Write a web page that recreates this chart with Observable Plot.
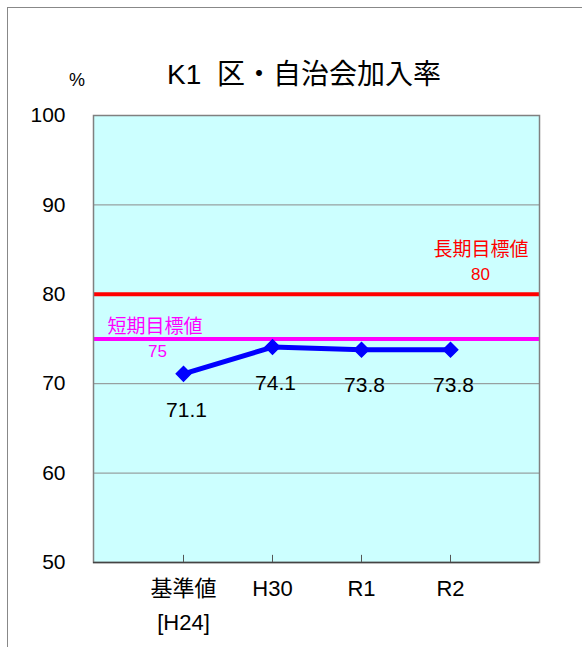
<!DOCTYPE html>
<html><head><meta charset="utf-8">
<script src="https://cdn.jsdelivr.net/npm/d3@7"></script>
<script src="https://cdn.jsdelivr.net/npm/@observablehq/plot@0.6"></script>
<style>
body{margin:0;background:#fff;}
#wrap{position:relative;width:582px;height:647px;overflow:hidden;font-family:"Liberation Sans","Noto Sans CJK JP",sans-serif;}
#border{position:absolute;left:7px;top:7px;width:600px;height:700px;border-left:1.5px solid #888;border-top:1.5px solid #888;}
#title{position:absolute;left:0;width:608px;top:52px;text-align:center;font-size:28px;color:#000;font-family:"Liberation Sans","Noto Sans CJK JP",sans-serif;white-space:pre;}
#pct{position:absolute;left:69px;top:70px;font-size:18px;font-family:"Liberation Sans",sans-serif;}
svg{position:absolute;left:0;top:0;}
</style></head>
<body><div id="wrap"><div id="border"></div><div id="title">K1  区・自治会加入率</div><div id="pct">%</div></div>
<script>
const categories = ["基準値", "H30", "R1", "R2"];
const tickLabels = ["基準値\n[H24]", "H30", "R1", "R2"];
const values = [71.1, 74.1, 73.8, 73.8];
const valueLabels = ["71.1", "74.1", "73.8", "73.8"];
const yTicks = [50, 60, 70, 80, 90, 100];
const gridTicks = [60, 70, 80, 90];
const longTarget = 80, longLabel = "長期目標値";
const shortTarget = 75, shortLabel = "短期目標値";

const data = categories.map((c, i) => ({cat: c, value: values[i], label: valueLabels[i]}));
const fontFam = '"Liberation Sans","Noto Sans CJK JP",sans-serif';
const cjk = '"Noto Sans CJK JP",sans-serif';

const chart = Plot.plot({
  width: 582, height: 647,
  marginLeft: 93, marginRight: 43, marginTop: 115, marginBottom: 85,
  style: {fontFamily: fontFam, background: "transparent", overflow: "visible", color: "#000"},
  x: {type: "point", domain: categories, padding: 1, label: null},
  y: {domain: [50, 100], label: null},
  marks: [
    Plot.frame({fill: "#CCFFFF", stroke: "none"}),
    Plot.ruleY(gridTicks, {stroke: "#8a8a8a", strokeWidth: 1}),
    Plot.ruleX(categories, {x: d => d, y1: 50, y2: 50.8, stroke: "#555"}),
    Plot.ruleY([longTarget], {stroke: "#FF0000", strokeWidth: 4}),
    Plot.ruleY([shortTarget], {stroke: "#FF00FF", strokeWidth: 4}),
    Plot.text([longLabel], {frameAnchor: "right", y: longTarget, dy: -44, dx: -11, text: d => d, fill: "#FF0000", fontSize: 19, textAnchor: "end", fontFamily: cjk}),
    Plot.text([String(longTarget)], {frameAnchor: "right", y: longTarget, dy: -20, dx: -59, text: d => d, fill: "#FF0000", fontSize: 17, textAnchor: "middle"}),
    Plot.text([shortLabel], {frameAnchor: "left", y: shortTarget, dy: -12, dx: 14, text: d => d, fill: "#FF00FF", fontSize: 19, textAnchor: "start", fontFamily: cjk}),
    Plot.text([String(shortTarget)], {frameAnchor: "left", y: shortTarget, dy: 13, dx: 64, text: d => d, fill: "#FF00FF", fontSize: 17, textAnchor: "middle"}),
    Plot.line(data, {x: "cat", y: "value", stroke: "#0000FF", strokeWidth: 5}),
    Plot.dot(data, {x: "cat", y: "value", symbol: "diamond2", fill: "#0000FF", stroke: "#0000FF", r: 6.5}),
    Plot.text(data, {x: "cat", y: "value", text: "label", dy: 36, dx: 3, fontSize: 21, fill: "#000"}),
    Plot.frame({stroke: "#808080", strokeWidth: 1.5}),
    Plot.ruleY([50], {stroke: "#444", strokeWidth: 1.5}),
    Plot.axisY({ticks: yTicks, tickSize: 0, tickPadding: 28, fontSize: 21, fill: "#000", tickFormat: d => String(d), label: null}),
    Plot.axisX({tickSize: 0, tickPadding: 9, fontSize: 22, fill: "#000", tickFormat: (d) => tickLabels[categories.indexOf(d)], label: null, lineHeight: 1.55})
  ]
});
document.getElementById("wrap").appendChild(chart);
</script></body></html>
